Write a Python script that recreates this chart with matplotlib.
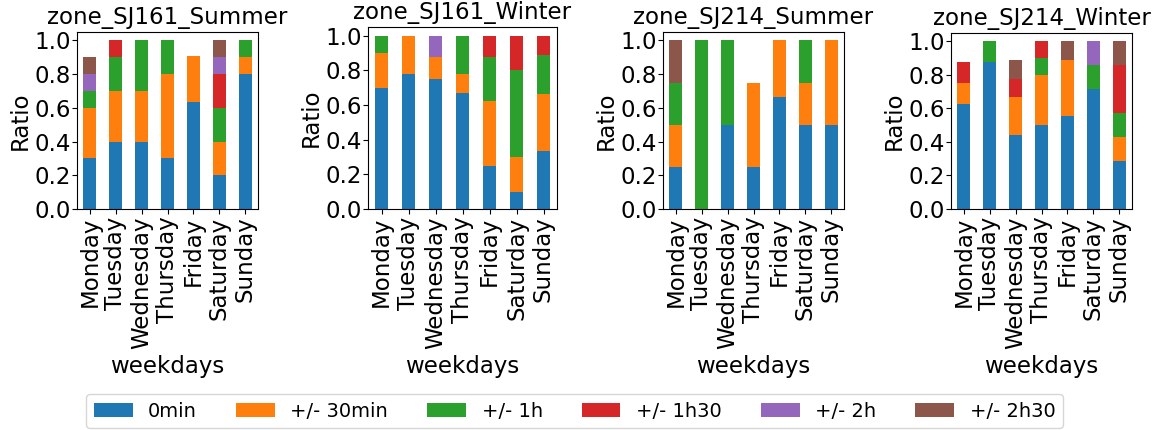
import numpy as np
import matplotlib
matplotlib.use('Agg')
import matplotlib.pyplot as plt

# Dados (fracao por categoria, uma linha por categoria, uma coluna por dia)
dias = ['Monday', 'Tuesday', 'Wednesday', 'Thursday', 'Friday', 'Saturday', 'Sunday']
categorias = ['0min', '+/- 30min', '+/- 1h', '+/- 1h30', '+/- 2h', '+/- 2h30']
titulos = ['zone_SJ161_Summer', 'zone_SJ161_Winter', 'zone_SJ214_Summer', 'zone_SJ214_Winter']

sj161_summer = [
    [0.3, 0.4, 0.4, 0.3, 0.636, 0.2, 0.8],
    [0.3, 0.3, 0.3, 0.5, 0.273, 0.2, 0.1],
    [0.1, 0.2, 0.3, 0.2, 0.0, 0.2, 0.1],
    [0.0, 0.1, 0.0, 0.0, 0.0, 0.2, 0.0],
    [0.1, 0.0, 0.0, 0.0, 0.0, 0.1, 0.0],
    [0.1, 0.0, 0.0, 0.0, 0.0, 0.1, 0.0],
]
sj161_winter = [
    [0.7, 0.778, 0.75, 0.667, 0.25, 0.1, 0.333],
    [0.2, 0.222, 0.125, 0.111, 0.375, 0.2, 0.333],
    [0.1, 0.0, 0.0, 0.222, 0.25, 0.5, 0.222],
    [0.0, 0.0, 0.0, 0.0, 0.125, 0.2, 0.111],
    [0.0, 0.0, 0.125, 0.0, 0.0, 0.0, 0.0],
    [0.0, 0.0, 0.0, 0.0, 0.0, 0.0, 0.0],
]
sj214_summer = [
    [0.25, 0.0, 0.5, 0.25, 0.667, 0.5, 0.5],
    [0.25, 0.0, 0.0, 0.5, 0.333, 0.25, 0.5],
    [0.25, 1.0, 0.5, 0.0, 0.0, 0.25, 0.0],
    [0.0, 0.0, 0.0, 0.0, 0.0, 0.0, 0.0],
    [0.0, 0.0, 0.0, 0.0, 0.0, 0.0, 0.0],
    [0.25, 0.0, 0.0, 0.0, 0.0, 0.0, 0.0],
]
sj214_winter = [
    [0.625, 0.875, 0.444, 0.5, 0.556, 0.714, 0.286],
    [0.125, 0.0, 0.222, 0.3, 0.333, 0.0, 0.143],
    [0.0, 0.125, 0.0, 0.1, 0.0, 0.143, 0.143],
    [0.125, 0.0, 0.111, 0.1, 0.0, 0.0, 0.286],
    [0.0, 0.0, 0.0, 0.0, 0.0, 0.143, 0.0],
    [0.0, 0.0, 0.111, 0.0, 0.111, 0.0, 0.143],
]
zonas = [sj161_summer, sj161_winter, sj214_summer, sj214_winter]

cores = ['#1f77b4', '#ff7f0e', '#2ca02c', '#d62728', '#9467bd', '#8c564b']

# Posicao de cada eixo em pixels (esquerda, topo, direita, base)
W, H = 1163, 430
caixas = [(77, 32, 258, 209), (368, 27, 557, 209), (663, 32, 844, 209), (951, 33, 1132, 209)]

fig = plt.figure(figsize=(W / 100, H / 100), dpi=100)

x = np.arange(len(dias))
for zona, titulo, (l, t, r, b) in zip(zonas, titulos, caixas):
    ax = fig.add_axes([l / W, 1 - b / H, (r - l) / W, (b - t) / H])
    pos = np.zeros(len(dias))
    for vals, cor, nome in zip(zona, cores, categorias):
        y = np.array(vals)
        mask = y > 0
        base = np.where(mask, pos, 0.0)   # igual ao pandas: zeros ficam na base
        ax.bar(x, y, 0.5, bottom=base, color=cor, label=nome)
        pos = pos + np.where(mask, y, 0.0)
    ax.set_xlim(-0.5, len(dias) - 0.5)
    ax.set_ylim(0, 1.05)
    ax.set_yticks(np.arange(0, 1.01, 0.2))
    ax.set_xticks(x)
    ax.set_xticklabels(dias, rotation=90, fontsize=16.5)
    ax.tick_params(axis='y', labelsize=16.5, pad=1)
    ax.tick_params(axis='x', pad=2)
    ax.set_xlabel('weekdays', fontsize=16.5)
    ax.set_ylabel('Ratio', fontsize=16.5, labelpad=2)
    ax.set_title(titulo, fontsize=16.5)

# Legenda comum embaixo
handles, labels = ax.get_legend_handles_labels()
fig.legend(handles, labels, loc='center', bbox_to_anchor=(0.494, 0.044),
           ncol=6, fontsize=14)

fig.savefig('out.png', dpi=100)
